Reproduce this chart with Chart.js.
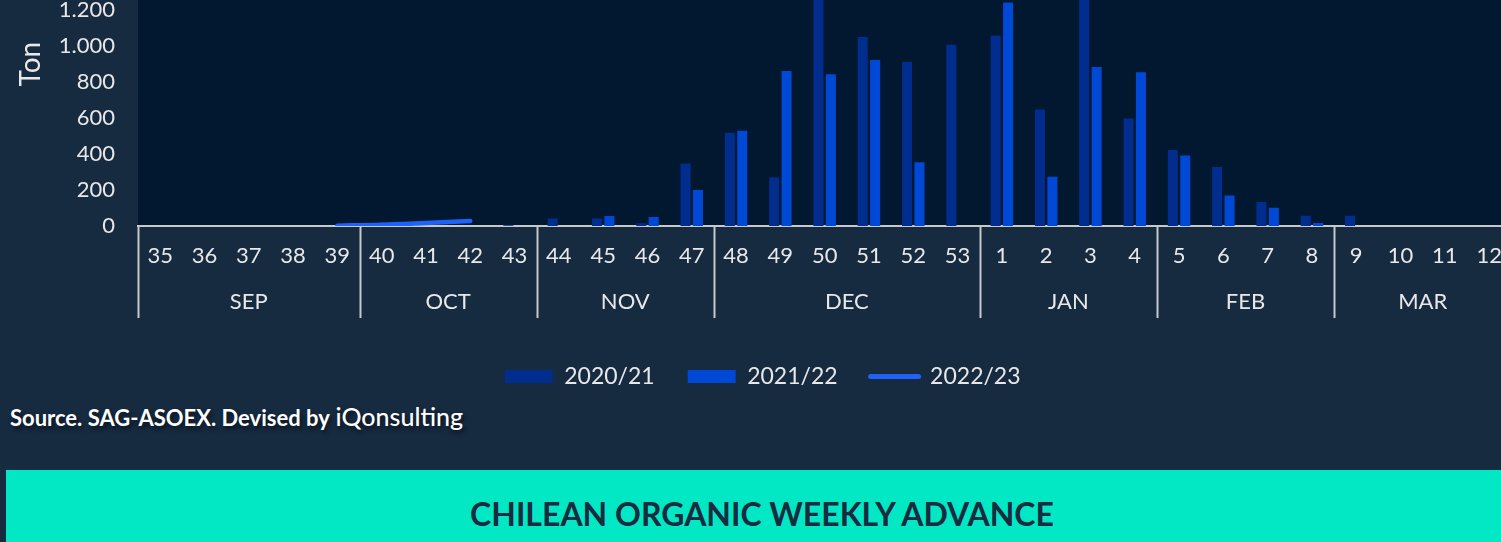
<!DOCTYPE html>
<html>
<head>
<meta charset="utf-8">
<script src="https://cdn.jsdelivr.net/npm/chart.js@4.4.1/dist/chart.umd.min.js"></script>
<style>
  html, body { margin: 0; padding: 0; }
  body {
    width: 1501px; height: 542px; overflow: hidden; position: relative;
    background: #162a40; font-family: 'Lato', sans-serif;
  }
  #wrap { position: absolute; left: 0; top: -134px; width: 1532px; height: 532px; }
  #source {
    position: absolute; left: 10px; top: 401px; color: #fff; white-space: nowrap;
    font-weight: 700; font-size: 22px; text-shadow: 2px 3px 4px rgba(0,0,0,0.55);
  }
  #source .brand { font-weight: 500; font-size: 25px; margin-left: 1px; }
  #banner {
    position: absolute; left: 6px; top: 470px; width: 1512px; height: 72px;
    background: #03e8c4; color: #172b41; font-weight: 700; font-size: 32px;
    text-align: center; padding-top: 28px; box-sizing: border-box;
  }
  #banner span { display: inline-block; line-height: 1; vertical-align: top; }
</style>
</head>
<body>
<div id="wrap"><canvas id="chart"></canvas></div>
<div id="source">Source. SAG-ASOEX. Devised by <span class="brand">iQonsulting</span></div>
<div id="banner"><span>CHILEAN ORGANIC WEEKLY ADVANCE</span></div>

<script>
// --- DATI ---
const weeks = ['35','36','37','38','39','40','41','42','43','44','45','46','47','48','49','50','51','52','53',
               '1','2','3','4','5','6','7','8','9','10','11','12'];

const months = ['SEP', 'OCT', 'NOV', 'DEC', 'JAN', 'FEB', 'MAR'];
const monthWeeks = [5, 4, 4, 6, 4, 4, 4];   // settimane per mese

const season2021 = [0, 0, 0, 0, 0, 0, 0, 0, 4, 42, 42, 15, 348, 519, 271, 1480, 1051, 913, 1007,
                    1057, 648, 1390, 598, 422, 328, 133, 57, 57, 0, 0, 0];
const season2122 = [0, 0, 0, 0, 0, 0, 0, 0, 0, 0, 55, 50, 200, 529, 862, 844, 923, 355, 0,
                    1243, 274, 884, 855, 392, 170, 101, 17, 0, 0, 0, 0];
const season2223 = [null, null, null, null, 2, 7, 17, 28, null, null, null, null, null, null, null, null,
                    null, null, null, null, null, null, null, null, null, null, null, null, null, null, null];

const yTicks = { min: 0, max: 1800, step: 200 };

const THEME = {
  text: '#e8e8e8', axis: '#c8c8c8', plotBg: '#011830',
  dark: '#002d8e', mid: '#0048d6', line: '#1e62f8'
};

// --- PLUGIN: sfondo area grafico + mesi sotto l'asse ---
const plotBackground = {
  id: 'plotBackground',
  beforeDraw(chart) {
    const { ctx, chartArea: a } = chart;
    ctx.save();
    ctx.fillStyle = THEME.plotBg;
    ctx.fillRect(a.left, a.top, a.right - a.left, a.bottom - a.top);
    ctx.restore();
  }
};

const monthGroups = {
  id: 'monthGroups',
  afterDraw(chart) {
    const { ctx, chartArea: a } = chart;
    const x = chart.scales.x;
    const half = (x.getPixelForTick(1) - x.getPixelForTick(0)) / 2;
    ctx.save();
    ctx.strokeStyle = THEME.axis;
    ctx.lineWidth = 2;
    ctx.fillStyle = THEME.text;
    ctx.font = '22px Lato';
    ctx.textAlign = 'center';
    ctx.textBaseline = 'middle';
    let start = 0;
    months.forEach((m, i) => {
      const end = start + monthWeeks[i] - 1;
      const left = x.getPixelForTick(start) - half;
      const right = x.getPixelForTick(end) + half;
      ctx.beginPath();
      ctx.moveTo(Math.round(left) + 0.5, a.bottom);
      ctx.lineTo(Math.round(left) + 0.5, a.bottom + 92);
      if (i === months.length - 1) {
        ctx.moveTo(Math.round(right) + 0.5, a.bottom);
        ctx.lineTo(Math.round(right) + 0.5, a.bottom + 92);
      }
      ctx.stroke();
      ctx.fillText(m, (left + right) / 2, a.bottom + 76);
      start = end + 1;
    });
    ctx.restore();
  }
};

Chart.defaults.font.family = "'Lato', sans-serif";
Chart.defaults.font.size = 22;
Chart.defaults.color = THEME.text;

new Chart(document.getElementById('chart'), {
  type: 'bar',
  data: {
    labels: weeks,
    datasets: [
      { label: '2020/21', data: season2021, backgroundColor: THEME.dark, borderWidth: 0,
        categoryPercentage: 0.56, barPercentage: 0.81, order: 2 },
      { label: '2021/22', data: season2122, backgroundColor: THEME.mid, borderWidth: 0,
        categoryPercentage: 0.56, barPercentage: 0.81, order: 2 },
      { label: '2022/23', type: 'line', data: season2223, borderColor: THEME.line, backgroundColor: THEME.line,
        borderWidth: 4.5, borderCapStyle: 'round', pointRadius: 0, tension: 0.35, order: 1 }
    ]
  },
  options: {
    responsive: true, maintainAspectRatio: false, animation: false,
    layout: { padding: { top: 20, right: 20.7, left: 14, bottom: 0 } },
    plugins: {
      tooltip: { enabled: false },
      legend: {
        position: 'bottom',
        labels: {
          color: THEME.text, font: { size: 23 }, padding: 33, boxWidth: 48, boxHeight: 13,
          usePointStyle: true, pointStyleWidth: 48,
          generateLabels: chart => chart.data.datasets.map((ds, i) => {
            const isLine = ds.type === 'line';
            return {
              text: ds.label, datasetIndex: i, fontColor: THEME.text,
              fillStyle: isLine ? 'transparent' : ds.backgroundColor,
              strokeStyle: isLine ? ds.borderColor : ds.backgroundColor,
              lineWidth: isLine ? 5 : 0, lineCap: 'round',
              pointStyle: isLine ? 'line' : 'rect', hidden: false
            };
          })
        }
      }
    },
    scales: {
      x: {
        grid: { display: false, drawTicks: false },
        border: { display: true, color: THEME.axis, width: 2 },
        ticks: { padding: 17, maxRotation: 0, autoSkip: false },
        afterFit: s => { s.height = 106; }
      },
      y: {
        min: yTicks.min, max: yTicks.max,
        grid: { display: false, drawTicks: false },
        border: { display: false },
        ticks: {
          stepSize: yTicks.step, padding: 23,
          callback: v => String(v).replace(/\B(?=(\d{3})+(?!\d))/g, '.')
        },
        title: { display: true, text: 'Ton', font: { size: 28 }, padding: { top: 0, bottom: 0 } },
        afterFit: s => { s.width = 124; }
      }
    }
  },
  plugins: [plotBackground, monthGroups]
});
</script>
</body>
</html>
